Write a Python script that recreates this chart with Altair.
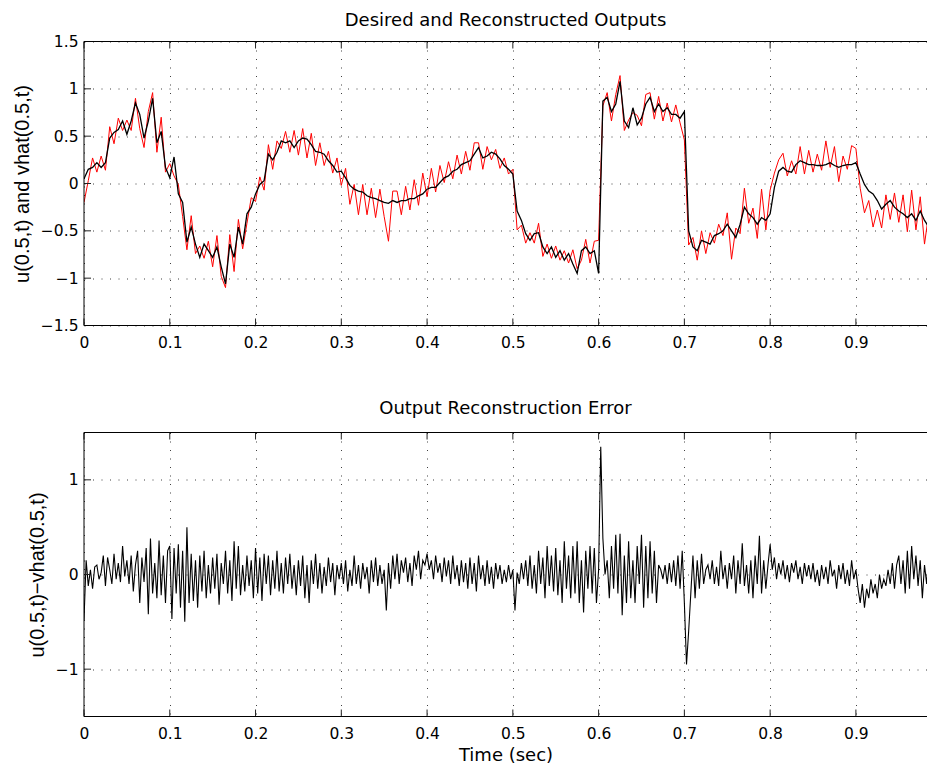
import altair as alt
import numpy as np
import pandas as pd

# ---------------- data ----------------
dt_top = 0.005   # sampling of the top-panel traces (s)
dt_err = 0.0025  # sampling of the error trace (s)

# black trace
u_black = [
    0.05, 0.15, 0.17, 0.22, 0.17, 0.22, 0.48, 0.54, 0.57, 0.66,
    0.52, 0.66, 0.85, 0.73, 0.48, 0.66, 0.9, 0.43, 0.55, 0.17,
    0.06, 0.28, -0.11, -0.2, -0.62, -0.46, -0.64, -0.78, -0.64, -0.71,
    -0.78, -0.67, -0.88, -1.06, -0.64, -0.78, -0.46, -0.64, -0.32, -0.25,
    -0.11, -0.01, 0.03, 0.31, 0.25, 0.33, 0.45, 0.43, 0.45, 0.38,
    0.45, 0.48, 0.47, 0.41, 0.34, 0.33, 0.31, 0.24, 0.19, 0.12,
    0.13, 0.06, -0.02, -0.06, -0.08, -0.09, -0.13, -0.15, -0.16, -0.18,
    -0.2, -0.21, -0.18, -0.2, -0.18, -0.18, -0.16, -0.16, -0.13, -0.11,
    -0.06, -0.04, -0.04, 0.01, 0.06, 0.08, 0.13, 0.15, 0.2, 0.22,
    0.24, 0.31, 0.38, 0.27, 0.29, 0.33, 0.31, 0.26, 0.19, 0.15,
    0.1, -0.29, -0.39, -0.53, -0.6, -0.53, -0.52, -0.67, -0.74, -0.67,
    -0.78, -0.71, -0.81, -0.74, -0.85, -0.95, -0.71, -0.67, -0.74, -0.71,
    -0.95, 0.87, 0.91, 0.76, 0.84, 1.08, 0.66, 0.59, 0.8, 0.62,
    0.69, 0.84, 0.91, 0.76, 0.84, 0.76, 0.8, 0.73, 0.73, 0.69,
    0.76, -0.5, -0.67, -0.71, -0.6, -0.62, -0.64, -0.55, -0.53, -0.5,
    -0.43, -0.5, -0.57, -0.43, -0.25, -0.32, -0.36, -0.43, -0.36, -0.39,
    -0.32, -0.04, 0.13, 0.17, 0.13, 0.12, 0.2, 0.24, 0.22, 0.2,
    0.2, 0.19, 0.19, 0.2, 0.22, 0.19, 0.17, 0.19, 0.2, 0.2,
    0.22, 0.1, -0.01, -0.08, -0.11, -0.18, -0.27, -0.22, -0.18, -0.25,
    -0.29, -0.32, -0.36, -0.32, -0.39, -0.29, -0.39, -0.46, -0.53, -0.43,
]

# red trace
vhat_red = [
    -0.2, 0.03, 0.27, 0.12, 0.29, 0.14, 0.6, 0.42, 0.69, 0.56,
    0.67, 0.56, 0.9, 0.58, 0.38, 0.76, 0.96, 0.33, 0.7, 0.12,
    0.21, 0.08, -0.01, -0.35, -0.7, -0.34, -0.74, -0.66, -0.79, -0.61,
    -0.88, -0.55, -0.98, -1.1, -0.54, -0.93, -0.38, -0.69, -0.42, -0.15,
    -0.19, 0.07, -0.07, 0.41, 0.15, 0.45, 0.37, 0.55, 0.33, 0.56,
    0.3, 0.58, 0.27, 0.53, 0.19, 0.43, 0.19, 0.34, 0.11, 0.27,
    -0.02, 0.16, -0.22, -0.01, -0.33, -0.01, -0.33, -0.05, -0.36, -0.06,
    -0.35, -0.61, -0.08, -0.08, -0.33, -0.03, -0.28, 0.04, -0.23, 0.11,
    -0.14, 0.16, -0.09, 0.19, 0.01, 0.23, 0.05, 0.3, 0.1, 0.34,
    0.14, 0.43, 0.43, 0.15, 0.39, 0.25, 0.36, 0.16, 0.27, 0.1,
    0.15, -0.49, -0.44, -0.63, -0.52, -0.63, -0.42, -0.77, -0.64, -0.79,
    -0.66, -0.81, -0.71, -0.84, -0.7, -0.9, -0.81, -0.59, -0.84, -0.61,
    -0.6, 0.82, 0.96, 0.66, 0.94, 1.14, 0.56, 0.67, 0.75, 0.72,
    0.61, 0.94, 0.96, 0.68, 0.92, 0.66, 0.85, 0.65, 0.83, 0.64,
    0.46, -0.65, -0.57, -0.81, -0.5, -0.74, -0.52, -0.63, -0.43, -0.55,
    -0.31, -0.8, -0.47, -0.53, -0.05, -0.42, -0.26, -0.58, -0.06, -0.49,
    -0.07, 0.11, 0.25, 0.32, 0.08, 0.24, 0.1, 0.39, 0.1, 0.35,
    0.12, 0.31, 0.14, 0.45, 0.17, 0.39, 0.02, 0.29, 0.15, 0.4,
    0.37, -0.05, -0.31, -0.18, -0.46, -0.28, -0.47, -0.12, -0.38, -0.1,
    -0.41, -0.12, -0.51, -0.07, -0.49, -0.14, -0.64, -0.31, -0.73, -0.33,
]

# error trace (bottom panel)
err = [
    -0.48, 0.15, -0.12, 0.05, -0.15, 0.08, 0.1, -0.05, 0.02, 0.2, -0.12, 0.18, 0.05, -0.1, 0.22, -0.05, 0.12, -0.08, 0.3, -0.02,
    0.15, -0.1, 0.2, -0.18, 0.1, 0.25, -0.3, 0.18, -0.08, 0.28, -0.42, 0.38, -0.2, 0.12, -0.25, 0.36, -0.22, 0.2, -0.3, 0.25,
    0.3, -0.47, 0.28, -0.2, 0.32, -0.35, 0.25, -0.5, 0.5, -0.3, 0.22, -0.28, 0.15, -0.35, 0.2, -0.18, 0.25, -0.25, 0.1, -0.2,
    0.18, -0.15, 0.22, -0.32, 0.12, -0.1, 0.25, -0.2, 0.15, -0.28, 0.35, -0.15, 0.3, -0.22, 0.1, -0.18, 0.2, -0.12, 0.15, -0.25,
    0.28, -0.2, 0.18, -0.28, 0.22, -0.1, 0.2, -0.22, 0.15, -0.15, 0.25, -0.18, 0.12, -0.2, 0.18, -0.1, 0.22, -0.15, 0.1, -0.22,
    0.15, -0.12, 0.2, -0.25, 0.1, -0.3, 0.15, -0.1, 0.22, -0.15, 0.12, -0.2, 0.08, -0.12, 0.18, -0.08, 0.12, -0.22, 0.1, -0.05,
    0.12, -0.1, 0.15, -0.18, 0.05, -0.12, 0.2, -0.1, 0.1, -0.15, 0.12, -0.05, 0.08, -0.2, 0.15, -0.08, 0.18, -0.12, 0.1, -0.1,
    0.05, -0.38, 0.12, -0.15, 0.2, -0.05, 0.22, -0.1, 0.15, 0.02, 0.18, -0.08, 0.12, -0.12, 0.2, 0.05, 0.25, -0.05, 0.15, 0.1,
    0.22, 0.05, 0.15, -0.05, 0.2, 0.02, 0.12, -0.08, 0.18, -0.02, 0.15, -0.1, 0.2, -0.05, 0.1, -0.12, 0.15, -0.08, 0.12, -0.15,
    0.18, -0.1, 0.12, -0.18, 0.2, -0.05, 0.1, -0.12, 0.15, -0.1, 0.08, -0.15, 0.12, -0.05, 0.1, -0.1, 0.05, -0.08, 0.1, -0.05,
    0.05, -0.38, 0.02, -0.1, 0.12, -0.05, 0.15, -0.12, 0.2, -0.15, 0.1, -0.2, 0.25, -0.1, 0.18, -0.25, 0.3, -0.12, 0.2, -0.18,
    0.28, -0.22, 0.15, -0.3, 0.35, -0.15, 0.2, -0.25, 0.3, -0.2, 0.35, -0.3, 0.15, -0.4, 0.25, -0.15, 0.3, -0.2, 0.28, -0.3,
    0.05, 1.35, 0.38, 0.0, 0.15, -0.25, 0.3, -0.15, 0.42, -0.2, 0.43, -0.43, 0.2, -0.3, 0.35, -0.25, 0.15, -0.3, 0.3, -0.1,
    0.42, -0.35, 0.3, -0.25, 0.35, -0.2, 0.25, -0.3, 0.1, 0.05, -0.05, 0.1, -0.1, 0.12, -0.08, 0.15, -0.12, 0.2, -0.15, 0.25,
    -0.3, -0.95, -0.6, -0.2, 0.2, -0.25, 0.15, -0.15, 0.22, -0.1, 0.05, 0.1, -0.05, 0.15, -0.1, 0.08, -0.12, 0.25, -0.05, 0.1,
    -0.15, 0.12, -0.05, 0.2, -0.2, 0.15, -0.1, 0.33, -0.12, 0.1, -0.2, 0.15, -0.25, 0.2, -0.1, 0.41, -0.2, 0.15, -0.15, 0.1,
    0.32, 0.05, 0.18, -0.05, 0.12, 0.0, 0.15, -0.05, 0.1, -0.08, 0.12, 0.02, 0.15, -0.05, 0.08, -0.1, 0.12, -0.02, 0.1, -0.05,
    0.12, -0.08, 0.05, -0.12, 0.1, -0.05, 0.08, -0.1, 0.15, -0.02, 0.05, -0.15, 0.1, -0.05, 0.12, -0.1, 0.05, -0.12, 0.15, -0.05,
    0.05, -0.15, -0.3, -0.1, -0.35, -0.15, -0.25, -0.05, -0.2, -0.1, -0.25, 0.0, -0.15, -0.05, -0.12, 0.05, -0.1, 0.12, -0.15, 0.1,
    0.2, -0.1, 0.15, -0.2, 0.25, -0.15, 0.3, -0.05, 0.2, -0.12, 0.15, -0.25, 0.1, -0.1, 0.2, 0.0, 0.43, -0.3, 0.15, 0.05,
]

x_ticks = [0, 0.1, 0.2, 0.3, 0.4, 0.5, 0.6, 0.7, 0.8, 0.9]
y_ticks_top = [-1.5, -1, -0.5, 0, 0.5, 1, 1.5]
y_ticks_bot = [-1, 0, 1]

title_top = "Desired and Reconstructed Outputs"
title_bot = "Output Reconstruction Error"
ytitle_top = "u(0.5,t) and vhat(0.5,t)"
ytitle_bot = "u(0.5,t)\u2212vhat(0.5,t)"
xtitle = "Time (sec)"

# ---------------- tables ----------------
t_top = np.round(np.arange(len(u_black)) * dt_top, 5)
t_err = np.round(np.arange(len(err)) * dt_err, 5)
top_df = pd.DataFrame({"t": t_top, "u": u_black, "vhat": vhat_red})
err_df = pd.DataFrame({"t": t_err, "e": err})
xt_df = pd.DataFrame({"t": x_ticks})
yt_top_df = pd.DataFrame({"v": y_ticks_top})
yt_bot_df = pd.DataFrame({"v": y_ticks_bot})
one_df = pd.DataFrame({"k": [0]})

# ---------------- layout / style ----------------
W, H = 843, 284
TL = 7
FONT_H = "DejaVu Sans"      # horizontal texts
FONT_V = "Liberation Sans"  # rotated axis titles
PX_PER_UNIT = 857.7         # x pixels per second in the reference

xscale = alt.Scale(domain=[0, round(W / PX_PER_UNIT, 4)], nice=False, zero=False)
yscale = alt.Scale(domain=[-1.5, 1.5], nice=False, zero=False)


def make_panel(line_layers_fn, yticks, yt_df, ytitle, xtitle_, title, title_offset):
    xax = alt.Axis(values=x_ticks, format="~g", grid=True)
    yax = alt.Axis(values=yticks, format="~g", grid=True)

    def X(field):
        return alt.X(field, type="quantitative", scale=xscale, title=xtitle_, axis=xax)

    def Y(field):
        return alt.Y(field, type="quantitative", scale=yscale, title=ytitle, axis=yax)

    layers = line_layers_fn(X, Y)
    tick = dict(color="#222", strokeWidth=1)
    layers += [
        alt.Chart(xt_df).mark_rule(**tick).encode(x=X("t"), y=alt.value(H), y2=alt.value(H - TL)),
        alt.Chart(xt_df).mark_rule(**tick).encode(x=X("t"), y=alt.value(0), y2=alt.value(TL)),
        alt.Chart(yt_df).mark_rule(**tick).encode(y=Y("v"), x=alt.value(0), x2=alt.value(TL)),
        # box: left, top, bottom (the right edge lies outside the picture)
        alt.Chart(one_df).mark_rule(color="black", strokeWidth=1).encode(
            x=alt.value(0), x2=alt.value(W), y=alt.value(0)),
        alt.Chart(one_df).mark_rule(color="black", strokeWidth=1).encode(
            x=alt.value(0), x2=alt.value(W), y=alt.value(H)),
        alt.Chart(one_df).mark_rule(color="black", strokeWidth=1).encode(
            x=alt.value(0), y=alt.value(0), y2=alt.value(H)),
    ]
    return alt.layer(*layers).properties(
        width=W, height=H, title=alt.TitleParams(title, frame="group", offset=title_offset))


def top_lines(X, Y):
    return [
        alt.Chart(top_df).mark_line(color="#ff0000", strokeWidth=1, clip=True).encode(x=X("t"), y=Y("vhat")),
        alt.Chart(top_df).mark_line(color="black", strokeWidth=1.3, clip=True).encode(x=X("t"), y=Y("u")),
    ]


def bot_lines(X, Y):
    return [alt.Chart(err_df).mark_line(color="black", strokeWidth=1.1, clip=True).encode(x=X("t"), y=Y("e"))]


top = make_panel(top_lines, y_ticks_top, yt_top_df, ytitle_top, None, title_top, 4.5)
bottom = make_panel(bot_lines, y_ticks_bot, yt_bot_df, ytitle_bot, xtitle, title_bot, 14)

chart = (
    alt.vconcat(top, bottom, spacing=48)
    .properties(padding={"left": 4, "top": 3.5, "right": 0, "bottom": 1}, background="white")
    .configure_view(strokeWidth=0, stroke="transparent")
    .configure_axis(
        labelFont=FONT_H, labelFontSize=15.5, labelColor="black",
        titleFontWeight="normal", titleColor="black",
        ticks=False, tickSize=0, domain=False, labelFlush=False, labelOverlap=False,
        gridColor="black", gridDash=[1, 7.5], gridOpacity=0.75, gridWidth=1,
    )
    .configure_axisX(labelPadding=10, titlePadding=4, titleFont=FONT_H, titleFontSize=18)
    .configure_axisY(labelPadding=6, titlePadding=8, titleFont=FONT_V, titleFontSize=20)
    .configure_title(font=FONT_H, fontSize=18, fontWeight="normal", color="black")
)

chart.save("out.html", embed_options={"renderer": "svg", "actions": False})
